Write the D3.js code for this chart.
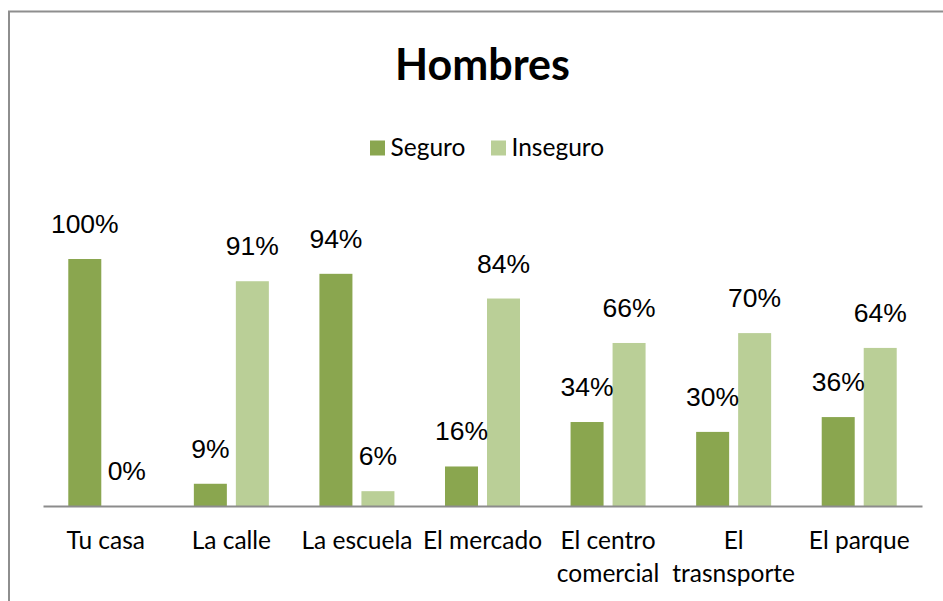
<!DOCTYPE html>
<html>
<head>
<meta charset="utf-8">
<script src="https://cdn.jsdelivr.net/npm/d3@7"></script>
<style>
  html, body { margin: 0; padding: 0; background: #ffffff; }
  svg { display: block; }
</style>
</head>
<body>
<svg id="chart" width="943" height="601"></svg>
<script>
const title = "Hombres";
const categories = ["Tu casa", "La calle", "La escuela", "El mercado", "El centro comercial", "El trasnsporte", "El parque"];
const seriesNames = ["Seguro", "Inseguro"];
const seguro = [100, 9, 94, 16, 34, 30, 36];
const inseguro = [0, 91, 6, 84, 66, 70, 64];
const colors = ["#8aa64f", "#bacf97"];

const W = 943, H = 601;
const svg = d3.select("#chart");
const catFont = "Lato, 'Open Sans', sans-serif";
const valFont = "'Liberation Sans', Arial, sans-serif";

// frame
svg.append("rect")
  .attr("x", 9).attr("y", 11.5)
  .attr("width", W + 10).attr("height", H + 10)
  .attr("fill", "none").attr("stroke", "#8e8e8e").attr("stroke-width", 2);

const x0 = d3.scaleBand().domain(categories).range([43, 922]).paddingInner(0).paddingOuter(0);
const x1 = d3.scaleBand().domain(seriesNames).range([0, x0.bandwidth()])
  .paddingInner(9 / 42).paddingOuter(0.602);
const y = d3.scaleLinear().domain([0, 100]).range([506, 259]);

const rows = categories.map((c, i) => ({ cat: c, values: [seguro[i], inseguro[i]] }));

// title
svg.append("text")
  .attr("x", 482.5).attr("y", 80)
  .attr("text-anchor", "middle")
  .attr("font-family", catFont)
  .attr("font-weight", "bold")
  .attr("font-size", 43)
  .attr("fill", "#000")
  .text(title);

// legend
const legend = svg.append("g");
const legendX = [370, 491];
seriesNames.forEach((s, i) => {
  const g = legend.append("g").attr("transform", `translate(${legendX[i]},140.5)`);
  g.append("rect").attr("width", 15).attr("height", 15).attr("fill", colors[i]);
  g.append("text").attr("x", 20.5).attr("y", 15.5)
    .attr("font-family", catFont).attr("font-size", 24.5).attr("fill", "#000")
    .text(s);
});

// bars
const groups = svg.append("g").selectAll("g").data(rows).join("g")
  .attr("transform", d => `translate(${x0(d.cat)},0)`);

groups.selectAll("rect").data(d => d.values.map((v, i) => ({ key: seriesNames[i], v, i })))
  .join("rect")
  .attr("x", d => x1(d.key))
  .attr("width", x1.bandwidth())
  .attr("y", d => y(d.v))
  .attr("height", d => y(0) - y(d.v))
  .attr("fill", d => colors[d.i]);

groups.selectAll("text.val").data(d => d.values.map((v, i) => ({ key: seriesNames[i], v, i })))
  .join("text").attr("class", "val")
  .attr("x", d => x1(d.key) + x1.bandwidth() / 2)
  .attr("y", d => y(d.v) - 26)
  .attr("text-anchor", "middle")
  .attr("font-family", valFont)
  .attr("font-size", 26.5)
  .attr("fill", "#000")
  .text(d => d.v + "%");

// axis
const axis = d3.axisBottom(x0).tickSize(0).tickPadding(0);
const ax = svg.append("g").attr("transform", `translate(0,${y(0)})`).call(axis);
ax.select(".domain").attr("stroke", "#8c8c8c").attr("stroke-width", 2);
ax.selectAll(".tick text").remove();

// category labels with wrapping
const maxW = x0.step() + 6;
ax.selectAll(".tick").each(function(d) {
  const t = d3.select(this).append("text")
    .attr("text-anchor", "middle")
    .attr("font-family", catFont)
    .attr("font-size", 24.5)
    .attr("fill", "#000");
  const words = d.split(" ");
  let lines = [];
  let cur = [];
  const probe = t.append("tspan");
  words.forEach(w => {
    const test = cur.concat([w]).join(" ");
    probe.text(test);
    if (probe.node().getComputedTextLength() > maxW && cur.length) {
      lines.push(cur.join(" "));
      cur = [w];
    } else {
      cur.push(w);
    }
  });
  if (cur.length) lines.push(cur.join(" "));
  probe.remove();
  lines.forEach((ln, k) => {
    t.append("tspan").attr("x", 0).attr("y", 43 + k * 33).text(ln);
  });
});
</script>
</body>
</html>
